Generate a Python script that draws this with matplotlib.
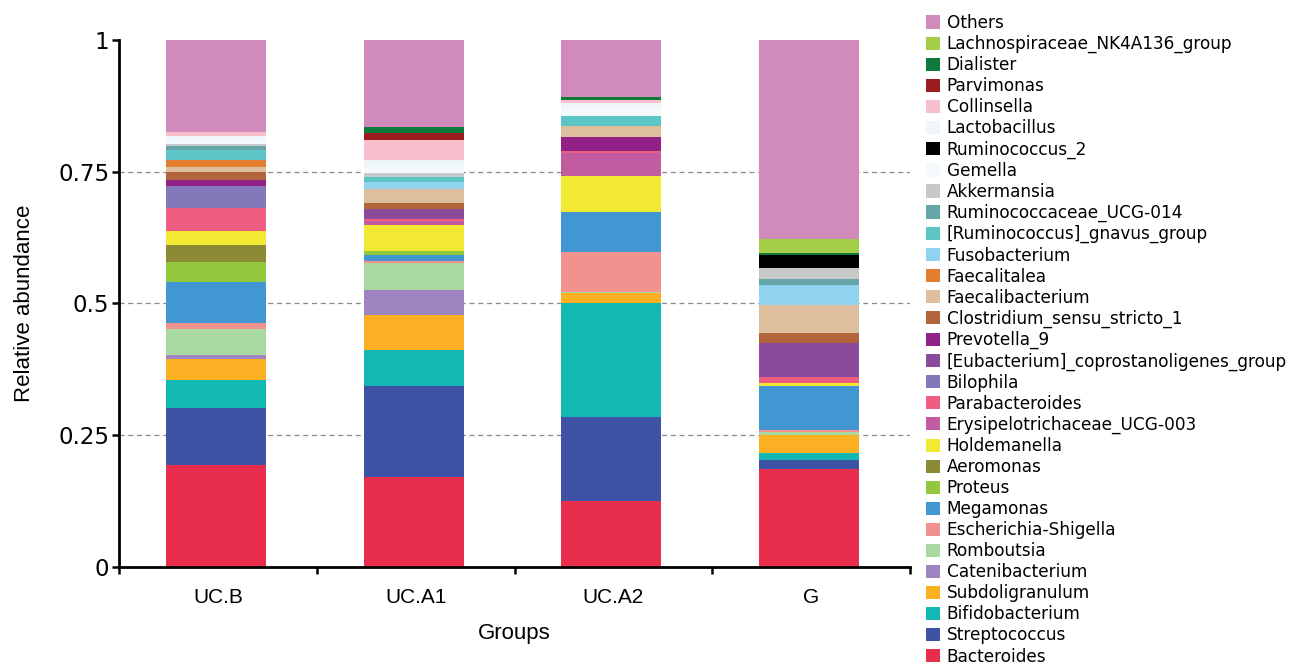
import numpy as np
import matplotlib
matplotlib.use('Agg')
import matplotlib.pyplot as plt
from matplotlib.patches import Patch

groups = ['UC.B', 'UC.A1', 'UC.A2', 'G']

# genera, stacked bottom -> top
taxa = ['Bacteroides', 'Streptococcus', 'Bifidobacterium', 'Subdoligranulum',
        'Catenibacterium', 'Romboutsia', 'Escherichia-Shigella', 'Megamonas',
        'Proteus', 'Aeromonas', 'Holdemanella', 'Erysipelotrichaceae_UCG-003',
        'Parabacteroides', 'Bilophila', '[Eubacterium]_coprostanoligenes_group',
        'Prevotella_9', 'Clostridium_sensu_stricto_1', 'Faecalibacterium',
        'Faecalitalea', 'Fusobacterium', '[Ruminococcus]_gnavus_group',
        'Ruminococcaceae_UCG-014', 'Akkermansia', 'Gemella', 'Ruminococcus_2',
        'Lactobacillus', 'Collinsella', 'Parvimonas', 'Dialister',
        'Lachnospiraceae_NK4A136_group', 'Others']

colors = ['#E92D4C', '#3E53A3', '#13B8B3', '#FBB024',
          '#9E84C0', '#A9D8A0', '#F2928F', '#4297D3',
          '#93C83E', '#8C8A37', '#F2E932', '#C35BA1',
          '#EF5E80', '#8379BA', '#8A4B9A',
          '#922187', '#B2643A', '#DDBF9E',
          '#E57D2E', '#8FD3EF', '#5BC6C5',
          '#67A6A8', '#C8C8C8', '#F4F9FC', '#000000',
          '#EEF6FB', '#F7BFCB', '#9B1B1E', '#0E7A3B',
          '#A5CE48', '#D08BBB']

ucb = [0.194, 0.108, 0.053, 0.039, 0.009, 0.049, 0.010, 0.078,
       0.039, 0.031, 0.027, 0.0, 0.045, 0.040, 0.0,
       0.012, 0.016, 0.008, 0.014, 0.0, 0.019,
       0.008, 0.003, 0.007, 0.0, 0.008, 0.009, 0.0, 0.0,
       0.0, 0.174]
uca1 = [0.171, 0.173, 0.068, 0.067, 0.046, 0.051, 0.005, 0.010,
        0.009, 0.0, 0.048, 0.009, 0.003, 0.0, 0.019,
        0.0, 0.011, 0.027, 0.0, 0.014, 0.008,
        0.0, 0.009, 0.012, 0.0, 0.012, 0.038, 0.013, 0.011,
        0.0, 0.166]
uca2 = [0.126, 0.158, 0.216, 0.019, 0.0, 0.003, 0.076, 0.076,
        0.0, 0.0, 0.068, 0.043, 0.005, 0.0, 0.0,
        0.025, 0.0, 0.021, 0.0, 0.0, 0.020,
        0.0, 0.0, 0.012, 0.0, 0.012, 0.006, 0.0, 0.006,
        0.0, 0.108]
g = [0.185, 0.018, 0.013, 0.035, 0.0, 0.005, 0.004, 0.084,
     0.0, 0.0, 0.005, 0.0, 0.012, 0.0, 0.064,
     0.0, 0.019, 0.053, 0.0, 0.038, 0.0,
     0.012, 0.021, 0.0, 0.023, 0.0, 0.0, 0.0, 0.005,
     0.026, 0.378]

data = np.array([ucb, uca1, uca2, g]).T   # shape (taxa, groups)
x = np.arange(len(groups))

fig = plt.figure(figsize=(12.89, 6.63), dpi=100)
ax = fig.add_axes([0.0923, 0.1448, 0.6137, 0.795])

bottom = np.zeros(len(groups))
for name, col, vals in zip(taxa, colors, data):
    ax.bar(x - 0.01, vals, 0.505, bottom=bottom, color=col, linewidth=0, zorder=2)
    bottom += vals

for yv in [0.25, 0.5, 0.75]:
    ax.axhline(yv, color='#8a8a8a', lw=0.9, ls=(0, (4, 3)), zorder=1)

ax.set_xlim(-0.5, 3.5)
ax.set_ylim(0, 1)
ax.set_yticks([0, 0.25, 0.5, 0.75, 1])
ax.set_yticklabels(['0', '0.25', '0.5', '0.75', '1'], fontsize=16.5)
ax.set_xticks(x)
ax.set_xticklabels(groups, fontsize=15, family='Liberation Sans')
ax.set_xticks(np.arange(-0.5, 4, 1), minor=True)
ax.tick_params(axis='x', which='major', length=0, pad=15)
ax.tick_params(axis='x', which='minor', length=5, width=1.8, direction='out')
ax.tick_params(axis='y', length=5, width=1.8, pad=2)
for side in ['top', 'right']:
    ax.spines[side].set_visible(False)
for side in ['left', 'bottom']:
    ax.spines[side].set_linewidth(2)
ax.set_ylabel('Relative abundance', fontsize=16, family='Liberation Sans', labelpad=17)
ax.set_xlabel('Groups', fontsize=16, family='Liberation Sans', labelpad=12)

handles = [Patch(facecolor=c, edgecolor='none', label=n)
           for n, c in zip(taxa[::-1], colors[::-1])]
fig.legend(handles=handles, loc='upper left', bbox_to_anchor=(0.7184, 0.979),
           frameon=False, fontsize=12.2, handlelength=0.82, handleheight=0.82,
           handletextpad=0.4, labelspacing=0.18, borderpad=0, borderaxespad=0)

fig.savefig('out.png', dpi=100)
